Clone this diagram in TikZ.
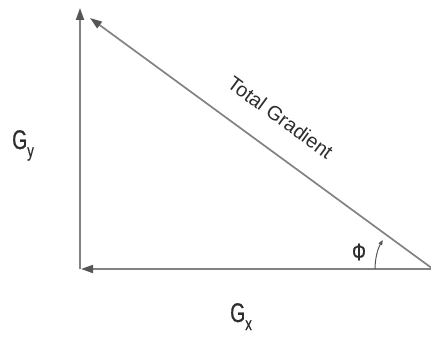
\documentclass[tikz,border=0pt]{standalone}
\usepackage{fontspec}
\setmainfont{Liberation Sans}
\newfontfamily\narrowfont[FakeStretch=0.72, FakeBold=0.6]{Liberation Sans}
\usetikzlibrary{arrows.meta}
\definecolor{linegray}{RGB}{130,130,130}
\definecolor{tipgray}{RGB}{85,85,85}
\definecolor{textgray}{RGB}{45,45,45}
\newcommand{\lowsub}[1]{\raisebox{-8pt}{\fontsize{18}{20}\selectfont #1}}

\begin{document}
\begin{tikzpicture}[x=1pt, y=1pt,
  vec/.style={draw=linegray, line width=1.7pt,
    -{Triangle[length=12pt, width=8pt, fill=tipgray, color=tipgray]}},
  comp/.style={text=textgray, inner sep=0pt, anchor=base west,
    font=\narrowfont\fontsize{27}{30}\selectfont}]
\useasboundingbox (0,0) rectangle (431,338);

% Corners
\coordinate (O) at (80,69);
\coordinate (R) at (433,69);
\coordinate (Ytip) at (80,330);
\coordinate (Xtip) at (81,69);
\coordinate (Gtip) at (90,320);

% Components
\draw[vec] (O) -- (Ytip);
\draw[vec] (R) -- (Xtip);

% Total gradient
\draw[vec] (R) -- (Gtip)
  node[pos=0.5, sloped, above=24pt, inner sep=0pt, text=textgray,
       font=\fontsize{20}{24}\selectfont] (total) {Total Gradient};

% Angle phi
\draw[tipgray, line width=1pt, -{Triangle[length=5pt, width=4pt]}]
  ([shift={(180:58)}]R) arc (180:150:58);
\node[comp, anchor=center, font=\narrowfont\fontsize{24}{26}\selectfont]
  (phi) at (359,86) {Φ};

% Labels
\node[comp] (gx) at (230,16) {G\lowsub{x}};
\node[comp] (gy) at (12,189) {G\lowsub{y}};

\end{tikzpicture}
\end{document}
